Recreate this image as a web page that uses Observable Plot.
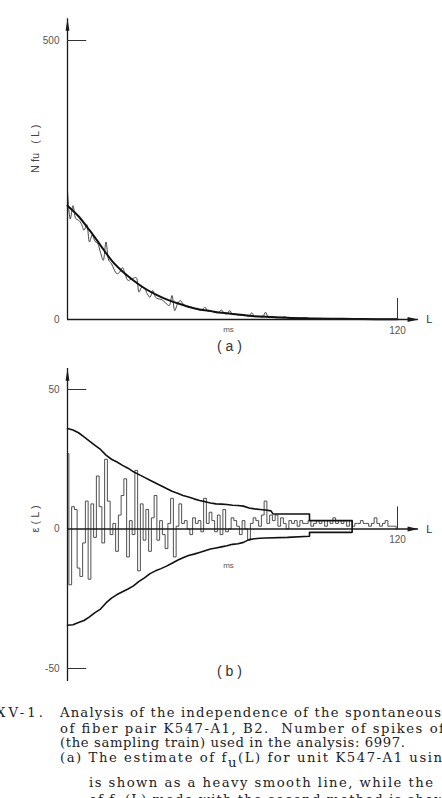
<!DOCTYPE html>
<html><head><meta charset="utf-8">
<script src="https://cdn.jsdelivr.net/npm/d3@7"></script>
<script src="https://cdn.jsdelivr.net/npm/@observablehq/plot@0.6"></script>
<style>
html,body{margin:0;padding:0;background:#fff;}
#page{position:relative;width:442px;height:798px;overflow:hidden;background:#fff;}
#page > *{position:absolute;left:0;}
</style></head><body><div id="page"></div>
<script>
// ---------- data: panel (a) ----------
const smoothL = [0,4,8,12,16,20,24,28,32,36,40,44,48,52,56,60,64,68,72,76,80,88,96,104,112,120];
const smoothN = [204,185,160,133,106,86,70,56,45,36,29,23,18,15,12,10,8,6,5,4,3,2,1.5,1,0.5,0.3];

const noisyL = [0,1,2,3,4,5,6,7,8,9,10,11,12,13,14,15,16,17,18,19,20,21,22,23,24,25,26,27,28,29,
  30,31,32,33,34,35,36,37,38,39,40,41,42,43,44,45,46,47,48,49,50,51,52,53,54,55,56,57,58,59,
  60,61,62,63,64,65,66,67,68,69,70,71,72,73,74,75,76,77,78,79,80,
  82,84,86,88,90,92,94,96,98,100,104,108,112,116,120];
const noisyN = [231,180,204,181,178,172,160,170,139,152,
  140,136,120,106,139,106,100,89,82,85,
  93,80,70,72,74,75,49,58,56,46,
  40,52,40,37,36,33,28,25,43,16,
  28,34,28,24,22,22,20,19,17,18,
  22,15,16,14,12,13,17,11,10,16,
  9,10,8,8,7,7,6,12,5,6,
  5,4,13,4,5,4,3,4,4,5,
  3,
  3,2.5,3,2,2,2,1.5,1.5,1,1,1,0.5,0.5,0.3,0.3];

const yTicksA = [0, 500];
const xTicksA = [120];

// ---------- data: panel (b) ----------
const epsV = [27,-20,8,7,-14,-17,-5,10,-18,9,
  -3,19,8,-5,25,10,-2,2,-8,5,
  12,18,-10,3,-2,21,-15,9,-4,7,
  -8,4,12,-4,3,-2,-7,2,11,-10,
  1,9,2,3,0,-2,4,2,3,-1,
  11,2,6,3,-1,5,-2,7,-1,0,
  4,3,1,-2,3,0,-4,2,4,3,
  1,5,10,2,5,3,5,1,4,2,
  0,3,2,3,1,3,2,2,3,1,
  2,3,2,3,1,3,2,4,2,3,
  2,3,1,3,1,2,2,3,2,2,
  1,2,4,2,1,2,3,1,1,1,
  0];

const upperL = [0,2,4,6,8,10,12,14,16,18,20,22,24,26,28,30,32,34,36,38,40,42,44,46,48,50,52,54,56,58,60,62,64,66,68,70,72,74,74.7,88,88,103.5,103.5];
const upperV = [36,35.5,34.5,33,31.5,30,28.5,26.5,25,24,22.8,21.8,20.5,19.5,18.5,17.5,16.5,15.5,14.5,13.5,12.8,12,11.5,10.8,10.2,9.8,9.3,9,8.9,8.8,8.5,8.4,8.2,7.5,7.2,7,6.8,6.5,5.4,5.4,3,3,0];
const lowerL = [0,2,4,6,8,10,12,14,16,18,20,22,24,26,28,30,32,34,36,38,40,42,44,46,48,50,52,54,56,58,60,62,64,66,68,70,72,80,88,88,103.5,103.5];
const lowerV = [-34.5,-34.3,-33.5,-32.8,-31.5,-30,-28.7,-26.5,-24.8,-23.5,-22.5,-21.5,-20.4,-18.8,-17.5,-16,-15,-14.2,-13.3,-12.3,-11.2,-10.3,-9.5,-9,-8.4,-7.8,-7.2,-6.8,-6.4,-6,-5.5,-5.3,-4.8,-3.8,-3.5,-3.3,-3.2,-3,-2.6,-1.2,-1.2,0];

const yTicksB = [-50, 0, 50];
const xTicksB = [120];

// axis extents
const axisA = {xEnd: 127.6, yEnd: 539, tickX: 7, tickY: 37.6};
const axisB = {xEnd: 127.6, yEnd: 57.5, yStart: -54.7, tickX: 7, tickY: 7.9};

// ---------- helpers ----------
const zip = (xs, ys) => xs.map((x, i) => ({x, y: ys[i]}));
const smoothA = zip(smoothL, smoothN);
const noisyA = zip(noisyL, noisyN);
const epsB = epsV.map((v, i) => ({x: i, y: v}));
const upperB = zip(upperL, upperV);
const lowerB = zip(lowerL, lowerV);

const headUp = {draw(ctx, size){const s=Math.sqrt(size); ctx.moveTo(0,0); ctx.lineTo(s*0.32,s*2.0); ctx.lineTo(-s*0.32,s*2.0); ctx.closePath();}};
const headRight = {draw(ctx, size){const s=Math.sqrt(size); ctx.moveTo(0,0); ctx.lineTo(-s*1.8,s*0.4); ctx.lineTo(-s*1.8,-s*0.4); ctx.closePath();}};

const sans = "'Liberation Sans', Arial, Helvetica, sans-serif";
const ink = "#1a1a1a";
const tickInk = "#555";

function axes(ax, yTicks, xTicks, ylabel, panel, msDy, panelDy) {
  return [
    Plot.ruleX([0], {y1: ax.yStart ?? 0, y2: ax.yEnd, stroke: ink, strokeWidth: 1.3}),
    Plot.ruleY([0], {x1: 0, x2: ax.xEnd, stroke: ink, strokeWidth: 1.3}),
    Plot.dot([{x: 0, y: ax.yEnd}], {x: "x", y: "y", symbol: headUp, r: 3.4, fill: ink, stroke: "none"}),
    Plot.dot([{x: ax.xEnd, y: 0}], {x: "x", y: "y", symbol: headRight, r: 3.4, fill: ink, stroke: "none"}),
    Plot.ruleY(yTicks.filter(v => v !== 0), {x1: 0, x2: ax.tickX, stroke: "#333", strokeWidth: 1}),
    Plot.ruleX(xTicks, {y1: 0, y2: ax.tickY, stroke: "#333", strokeWidth: 1}),
    Plot.text(yTicks, {x: 0, y: d => d, text: d => d < 0 ? "-" + Math.abs(d) : String(d), dx: -8, textAnchor: "end", fontSize: 10, fill: tickInk, fontFamily: sans}),
    Plot.text(xTicks, {x: d => d, y: 0, text: d => String(d), dy: 11, fontSize: 10, fill: tickInk, fontFamily: sans}),
    Plot.text(["L"], {x: ax.xEnd, y: 0, dx: 11, fontSize: 11, fill: "#333", fontFamily: sans}),
    Plot.text(["ms"], {frameAnchor: msDy[0], dy: msDy[1], dx: -4, fontSize: 8, fill: tickInk, fontFamily: sans}),
    Plot.text([ylabel[0]], {frameAnchor: "left", dx: -32, dy: ylabel[1], rotate: -90, fontSize: 11, fill: "#444", fontFamily: sans}),
    Plot.text([panel], {frameAnchor: "bottom", dy: panelDy, dx: -3, fontSize: 14, fill: "#333", fontFamily: sans})
  ];
}

const page = document.getElementById("page");

const plotA = Plot.plot({
  width: 442, height: 362,
  marginLeft: 67, marginRight: 45, marginTop: 40, marginBottom: 43,
  x: {domain: [0, 120], axis: null},
  y: {domain: [0, 500], axis: null},
  style: {background: "transparent", overflow: "visible"},
  marks: [
    Plot.line(noisyA, {x: "x", y: "y", curve: "catmull-rom", stroke: "#444", strokeWidth: 1}),
    Plot.line(smoothA, {x: "x", y: "y", curve: "monotone-x", stroke: "#111", strokeWidth: 2}),
    ...axes(axisA, yTicksA, xTicksA, ["N fu   ( L )", -7], "( a )", ["bottom", 12], 31)
  ]
});
plotA.style.top = "0px";
page.appendChild(plotA);

const plotB = Plot.plot({
  width: 442, height: 320,
  marginLeft: 67, marginRight: 45, marginTop: 27, marginBottom: 14,
  x: {domain: [0, 120], axis: null},
  y: {domain: [-50, 50], axis: null},
  style: {background: "transparent", overflow: "visible"},
  marks: [
    Plot.line(epsB, {x: "x", y: "y", curve: "step", stroke: "#3c3c3c", strokeWidth: 0.9}),
    Plot.line(upperB, {x: "x", y: "y", stroke: "#111", strokeWidth: 1.6}),
    Plot.line(lowerB, {x: "x", y: "y", stroke: "#111", strokeWidth: 1.6}),
    ...axes(axisB, yTicksB, xTicksB, ["ε ( L )", 3.5], "( b )", ["middle", 36.5], 7)
  ]
});
plotB.style.top = "362px";
page.appendChild(plotB);

// ---------- caption ----------
const capLines = [
  {x: 60, y: 27.3, len: 381, parts: [["Analysis of the independence of the spontaneous"]]},
  {x: 60, y: 43, len: 384, parts: [["of fiber pair K547-A1, B2.  Number of spikes of"]]},
  {x: 60, y: 57, len: 345, parts: [["(the sampling train) used in the analysis: 6997."]]},
  {x: 60, y: 72.3, len: 392, parts: [["(a) The estimate of f"], ["u", 5], ["(L) for unit K547-A1 using", -5]]},
  {x: 89, y: 97.3, len: 344, parts: [["is shown as a heavy smooth line, while the"]]},
  {x: 89, y: 114, len: 366, parts: [["of f"], ["u", 5], ["(L) made with the second method is shown", -5]]}
];
const cap = d3.create("svg").attr("width", 442).attr("height", 108)
  .style("top", "690px").style("overflow", "hidden");
cap.append("text").attr("x", 43).attr("y", 27.3).attr("text-anchor", "end")
  .attr("font-family", "'DejaVu Serif', serif").attr("font-size", 13.2).attr("fill", "#222")
  .attr("textLength", 47).attr("lengthAdjust", "spacing").text("XV-1.");
for (const ln of capLines) {
  const t = cap.append("text").attr("x", ln.x).attr("y", ln.y)
    .attr("font-family", "'DejaVu Serif', serif").attr("font-size", 13.2).attr("fill", "#222")
    .attr("textLength", ln.len).attr("lengthAdjust", "spacing").attr("xml:space", "preserve")
    .style("white-space", "pre");
  for (const [s, dy] of ln.parts) {
    const sp = t.append("tspan").text(s);
    if (dy) sp.attr("dy", dy);
  }
}
page.appendChild(cap.node());
</script></body></html>
